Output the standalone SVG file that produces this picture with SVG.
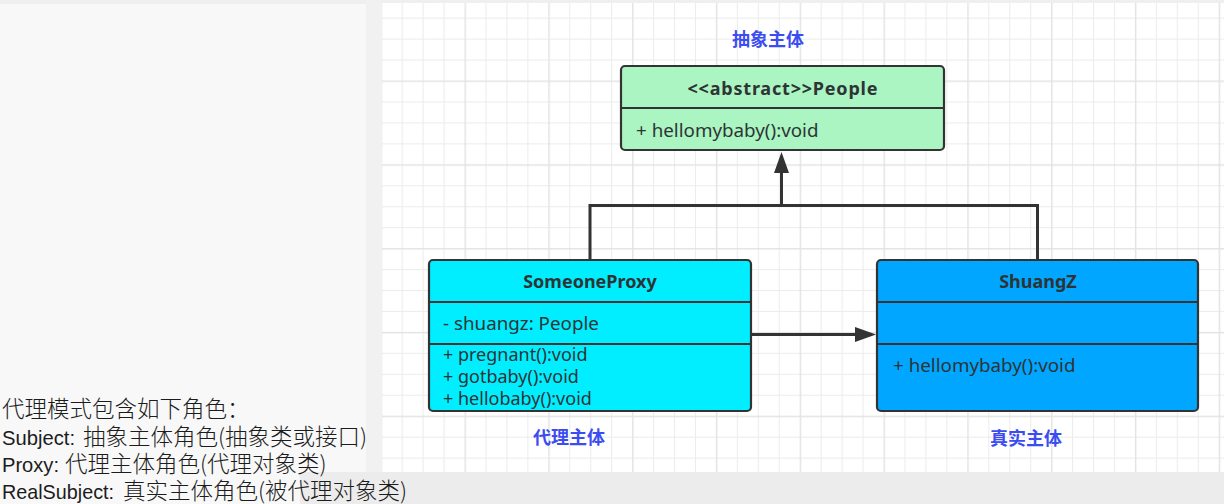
<svg xmlns="http://www.w3.org/2000/svg" width="1224" height="504" viewBox="0 0 1224 504">
  <style>
    .box { stroke: #333333; stroke-width: 2.2; }
    .div { stroke: #333333; stroke-width: 2.2; fill: none; }
    .title { font-family: "Noto Sans", "Open Sans", sans-serif; font-weight: bold; font-size: 18px; fill: #2e3436; text-anchor: middle; }
    .member { font-family: "Noto Sans", "Open Sans", sans-serif; font-size: 18.8px; fill: #2e3436; }
    .method { font-family: "Noto Sans", "Open Sans", sans-serif; font-size: 18px; fill: #2e3436; }
    .role { font-family: "Noto Sans CJK SC", "Noto Sans", sans-serif; font-weight: bold; font-size: 18px; fill: #3b4cf0; text-anchor: middle; }
    .conn { stroke: #333333; stroke-width: 3; fill: none; }
    .note { font-family: "Liberation Sans", "Noto Sans CJK SC", sans-serif; font-size: 21px; fill: #1c1c1c; }
    .cjk { font-family: "Noto Sans CJK SC", sans-serif; font-weight: 300; font-size: 22.5px; }
  </style>
  <defs>
    <pattern id="grid" patternUnits="userSpaceOnUse" x="464.5" y="80.5" width="83.8" height="83.8">
      <rect x="0" y="0" width="83.8" height="83.8" fill="#ffffff"/>
      <rect x="20.95" y="0" width="1" height="83.8" fill="#ececec"/>
      <rect x="41.9" y="0" width="1" height="83.8" fill="#ececec"/>
      <rect x="62.85" y="0" width="1" height="83.8" fill="#ececec"/>
      <rect x="0" y="20.95" width="83.8" height="1" fill="#ececec"/>
      <rect x="0" y="41.9" width="83.8" height="1" fill="#ececec"/>
      <rect x="0" y="62.85" width="83.8" height="1" fill="#ececec"/>
      <rect x="0" y="0" width="1.4" height="83.8" fill="#e2e2e2"/>
      <rect x="0" y="0" width="83.8" height="1.4" fill="#e2e2e2"/>
    </pattern>
    <marker id="tri" viewBox="0 0 21 15" refX="0" refY="7.5" markerWidth="21" markerHeight="15" markerUnits="userSpaceOnUse" orient="auto">
      <path d="M0,0 L21,7.5 L0,15 Z" fill="#333333"/>
    </marker>
  </defs>

  <!-- background -->
  <rect x="0" y="0" width="1224" height="504" fill="#f8f8f8"/>
  <rect x="0" y="0" width="1224" height="4" fill="#efefef"/>
  <rect x="366" y="0" width="16" height="472" fill="#f1f1f1"/>
  <rect x="300" y="472" width="924" height="32" fill="#ececec"/>
  <rect x="382" y="3" width="842" height="469" fill="url(#grid)"/>

  <!-- connectors -->
  <g id="connectors">
    <path class="conn" d="M590,260 V205.5 H1037.5 V260"/>
    <path class="conn" d="M781.5,205.5 V173" marker-end="url(#tri)"/>
    <path class="conn" d="M752,334.5 H855" marker-end="url(#tri)"/>
  </g>

  <!-- People -->
  <g id="people">
    <rect class="box" x="621" y="66" width="323" height="84" rx="4" fill="#aaf5c1"/>
    <line class="div" x1="621" y1="108" x2="944" y2="108"/>
    <text class="title" x="782.5" y="95" textLength="190" lengthAdjust="spacing">&lt;&lt;abstract&gt;&gt;People</text>
    <text class="member" x="636" y="137">+ hellomybaby():void</text>
  </g>

  <!-- SomeoneProxy -->
  <g id="someoneproxy">
    <rect class="box" x="429" y="260" width="322" height="151" rx="4" fill="#00eeff"/>
    <line class="div" x1="429" y1="302" x2="751" y2="302"/>
    <line class="div" x1="429" y1="344" x2="751" y2="344"/>
    <text class="title" x="590" y="288">SomeoneProxy</text>
    <text class="member" x="443" y="330">- shuangz: People</text>
    <text class="method" x="443" y="361">+ pregnant():void</text>
    <text class="method" x="443" y="383">+ gotbaby():void</text>
    <text class="method" x="443" y="405">+ hellobaby():void</text>
  </g>

  <!-- ShuangZ -->
  <g id="shuangz">
    <rect class="box" x="877" y="260" width="321" height="151" rx="4" fill="#00a6ff"/>
    <line class="div" x1="877" y1="302" x2="1198" y2="302"/>
    <line class="div" x1="877" y1="344" x2="1198" y2="344"/>
    <text class="title" x="1038" y="288">ShuangZ</text>
    <text class="member" x="893" y="372">+ hellomybaby():void</text>
  </g>

  <!-- role labels -->
  <g id="labels">
    <text class="role" x="768" y="46">抽象主体</text>
    <text class="role" x="569" y="444">代理主体</text>
    <text class="role" x="1026" y="445">真实主体</text>
  </g>

  <!-- notes -->
  <g id="notes">
    <text class="note cjk" x="2" y="417">代理模式包含如下角色：</text>
    <text class="note" x="2" y="445"><tspan textLength="73" lengthAdjust="spacingAndGlyphs">Subject:</tspan><tspan class="cjk" x="83">抽象主体角色(抽象类或接口)</tspan></text>
    <text class="note" x="2" y="472"><tspan textLength="57" lengthAdjust="spacingAndGlyphs">Proxy:</tspan><tspan class="cjk" x="65">代理主体角色(代理对象类)</tspan></text>
    <text class="note" x="2" y="499"><tspan textLength="112" lengthAdjust="spacingAndGlyphs">RealSubject:</tspan><tspan class="cjk" x="123">真实主体角色(被代理对象类)</tspan></text>
  </g>
</svg>
